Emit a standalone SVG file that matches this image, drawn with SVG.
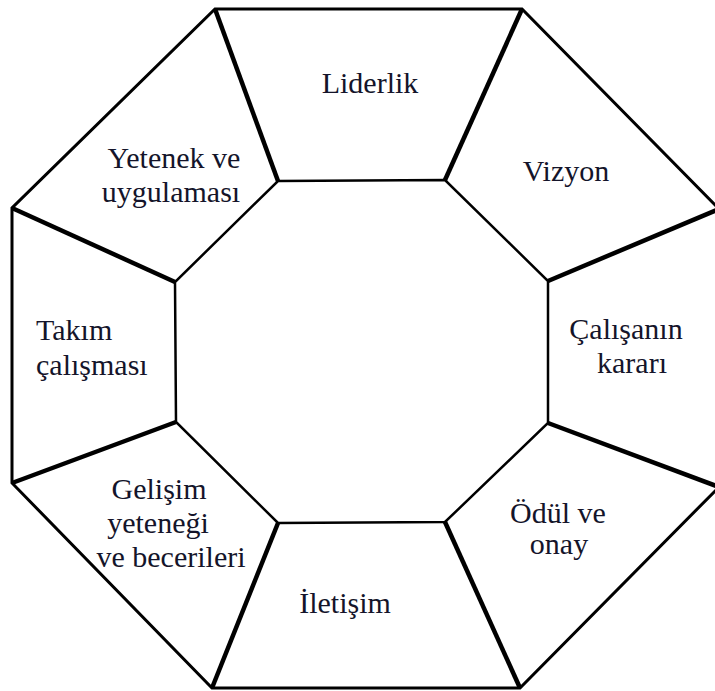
<svg xmlns="http://www.w3.org/2000/svg" width="715" height="691" viewBox="0 0 715 691">
<style>
.outer{fill:none;stroke:#000;stroke-width:3;stroke-linejoin:miter}
.inner{fill:none;stroke:#000;stroke-width:2.5}
.spoke{stroke:#000;stroke-width:4.5;stroke-linecap:butt}
text{font-family:"Liberation Serif","Times New Roman",serif;font-size:30px;fill:#14142a}
.c{text-anchor:middle}
</style>
<rect width="715" height="691" fill="#fff"/>
<g id="connectors">
<polygon class="outer" points="215,9 522,9 719,209 719,487 520,688 212,688 12,483 12,208"/>
<polygon class="inner" points="278,181 445,180 548,281 548,423 445,522 278,523 176,422 175,282"/>
<line class="spoke" x1="215" y1="9" x2="278" y2="181"/>
<line class="spoke" x1="522" y1="9" x2="445" y2="180"/>
<line class="spoke" x1="719" y1="209" x2="548" y2="281"/>
<line class="spoke" x1="719" y1="487" x2="548" y2="423"/>
<line class="spoke" x1="520" y1="688" x2="445" y2="522"/>
<line class="spoke" x1="212" y1="688" x2="278" y2="523"/>
<line class="spoke" x1="12" y1="483" x2="176" y2="422"/>
<line class="spoke" x1="12" y1="208" x2="175" y2="282"/>
</g>
<g id="liderlik"><text class="c" x="370" y="93">Liderlik</text></g>
<g id="yetenek"><text class="c" x="174" y="168">Yetenek ve</text><text class="c" x="171" y="202">uygulaması</text></g>
<g id="vizyon"><text class="c" x="566" y="181">Vizyon</text></g>
<g id="takim"><text x="36" y="340">Takım</text><text x="36" y="375">çalışması</text></g>
<g id="calisanin"><text class="c" x="626" y="339">Çalışanın</text><text class="c" x="632" y="373">kararı</text></g>
<g id="gelisim"><text class="c" x="159" y="499">Gelişim</text><text class="c" x="158" y="533">yeteneği</text><text class="c" x="171" y="567">ve becerileri</text></g>
<g id="odul"><text class="c" x="558" y="523">Ödül ve</text><text class="c" x="559" y="554">onay</text></g>
<g id="iletisim"><text class="c" x="345" y="613">İletişim</text></g>
</svg>
